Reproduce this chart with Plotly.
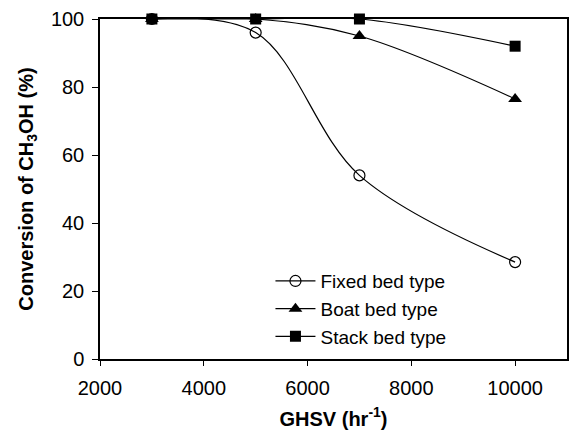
import plotly.graph_objects as go

ghsv = [3000, 5000, 7000, 10000]
fixed_bed = [100, 96, 54, 28.5]
boat_bed = [100, 100, 95, 76.5]
stack_bed = [100, 100, 100, 92]
series_names = ["Fixed bed type", "Boat bed type", "Stack bed type"]
x_ticks = [2000, 4000, 6000, 8000, 10000]
x_tick_labels = ["2000", "4000", "6000", "8000", "10000"]
y_ticks = [0, 20, 40, 60, 80, 100]

FONT = "Liberation Sans, Arial, sans-serif"

fig = go.Figure()
styles = [
    dict(symbol="circle-open", size=11, line=dict(width=1.2, color="black"), color="black"),
    dict(symbol="triangle-up", size=12, color="black"),
    dict(symbol="square", size=11, color="black"),
]
for name, vals, mk in zip(series_names, [fixed_bed, boat_bed, stack_bed], styles):
    fig.add_trace(go.Scatter(
        x=ghsv, y=vals, name=name, mode="lines+markers",
        line=dict(color="black", width=1.2, shape="spline", smoothing=1.0),
        marker=mk, cliponaxis=False,
    ))

fig.update_layout(
    width=574, height=435,
    margin=dict(l=100, r=5, t=19, b=76),
    paper_bgcolor="white", plot_bgcolor="white",
    font=dict(family=FONT, color="black", size=20),
    showlegend=True,
    legend=dict(x=0.365, y=0.285, xanchor="left", yanchor="top",
                bgcolor="rgba(0,0,0,0)", font=dict(size=19, family=FONT),
                itemwidth=40, tracegroupgap=0),
    xaxis=dict(range=[2000, 11000], tickvals=x_ticks, ticktext=x_tick_labels,
               showgrid=False, zeroline=False,
               showline=True, linecolor="black", linewidth=1.5, mirror=True,
               ticks="outside", ticklen=5, tickcolor="black",
               ticklabelstandoff=5, tickfont=dict(size=20, family=FONT),
               title=dict(text="<b>GHSV (hr<sup>-1</sup>)</b>", font=dict(size=20, family=FONT), standoff=14)),
    yaxis=dict(range=[0, 100], tickvals=y_ticks, showgrid=False, zeroline=False,
               showline=True, linecolor="black", linewidth=1.5, mirror=True,
               ticks="outside", ticklen=6, tickcolor="black",
               ticklabelstandoff=4, tickfont=dict(size=20, family=FONT),
               title=dict(text="<b>Conversion of CH<sub>3</sub>OH (%)</b>", font=dict(size=20, family=FONT), standoff=12)),
)

fig.write_html("out.html")
